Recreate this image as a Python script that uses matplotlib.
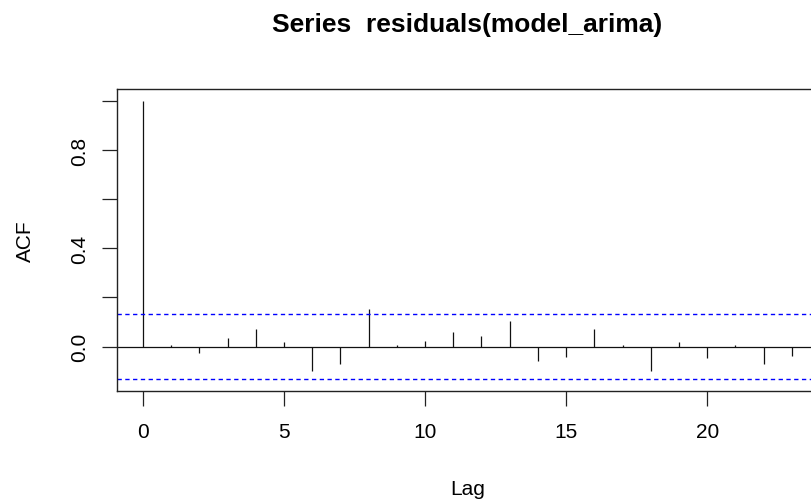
import numpy as np
import matplotlib
matplotlib.use('Agg')
import matplotlib.pyplot as plt

plt.rcParams['font.family'] = ['Liberation Sans', 'DejaVu Sans']

# ACF of residuals (lag 0..23)
lags = np.arange(0, 24)
acf_vals = [1.0, 0.007, -0.026, 0.034, 0.072, 0.018, -0.10, -0.073, 0.154, 0.007,
            0.023, 0.060, 0.044, 0.103, -0.058, -0.042, 0.071, 0.007, -0.10, 0.018,
            -0.048, 0.007, -0.073, -0.037]
conf_lim = 0.134
yticks = [0.0, 0.2, 0.4, 0.6, 0.8, 1.0]
ytick_labels = ['0.0', '', '0.4', '', '0.8', '']
xticks = [0, 5, 10, 15, 20]

W, H = 811, 502
fig = plt.figure(figsize=(W / 100, H / 100), dpi=100)
# box runs slightly past the right edge like the original screenshot
ax = fig.add_axes([116.9 / W, 110.3 / H, (817.8 - 116.9) / W, 301.7 / H])

ax.vlines(lags, 0, acf_vals, color='#111111', lw=0.9)
ax.axhline(0, color='#111111', lw=0.9)
ax.axhline(conf_lim, color='blue', lw=1.0, ls=(0, (3.1, 2.5)))
ax.axhline(-conf_lim, color='blue', lw=1.0, ls=(0, (3.1, 2.5)))

ax.set_xlim(-0.92, 23.92)
ax.set_ylim(-0.18, 1.05)
ax.set_xticks(xticks)
ax.set_yticks(yticks)
ax.set_yticklabels(ytick_labels, rotation=90, va='center')
ax.tick_params(axis='both', length=10.7, width=0.9, labelsize=15, color='#222222')
ax.tick_params(axis='x', pad=11.5)
ax.tick_params(axis='y', pad=9.5)
for s in ax.spines.values():
    s.set_linewidth(1.0)
    s.set_color('#222222')

ax.set_xlabel('Lag', fontsize=15)
ax.xaxis.set_label_coords(0.5, (H - 490 - 110.3) / 301.7)
ax.xaxis.label.set_va('center')
ax.set_ylabel('ACF', fontsize=15)
ax.yaxis.set_label_coords((25 - 116.9) / (817.8 - 116.9), 0.5)
ax.yaxis.label.set_va('center')

fig.text(0.5 * (116.9 + 817.8) / W, 1 - 25 / H, 'Series  residuals(model_arima)',
         fontsize=19, fontweight='bold', ha='center', va='center')

fig.savefig('out.png', dpi=100)
